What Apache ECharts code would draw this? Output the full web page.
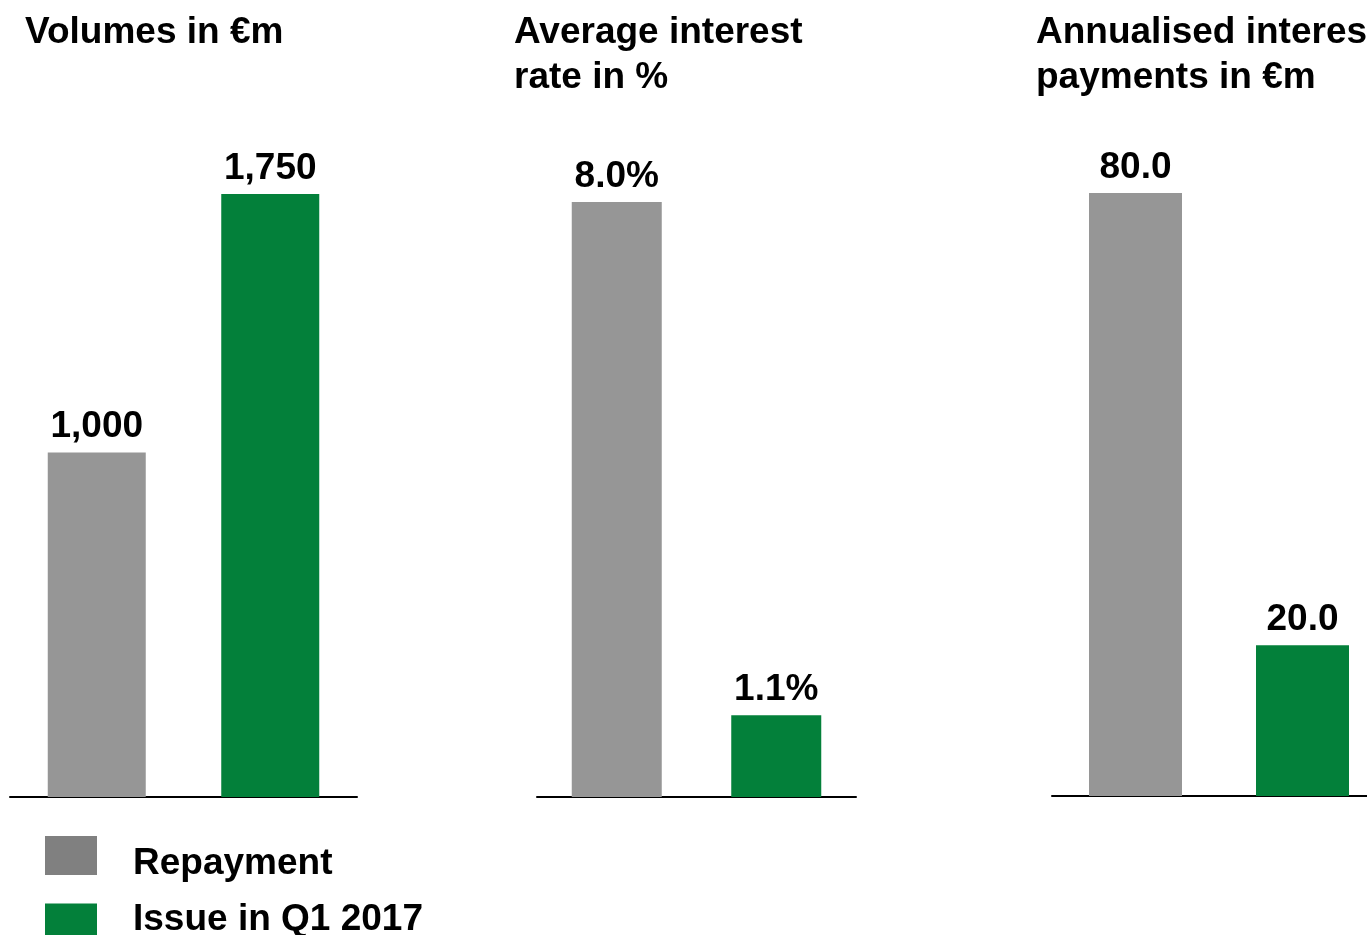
<!DOCTYPE html>
<html>
<head>
<meta charset="utf-8">
<title>Refinancing: repayment vs. new issue</title>
<script src="https://cdn.jsdelivr.net/npm/echarts@6/dist/echarts.min.js"></script>
<style>
  html, body { margin: 0; padding: 0; background: #fff; overflow: hidden; }
  /* canvas runs a little past the right edge so the last panel is cut off there */
  #chart { width: 1400px; height: 935px; }
</style>
</head>
<body>
<div id="chart"></div>
<script>
// Series names (shared by all three panels)
const categories = ['Repayment', 'Issue in Q1 2017'];

// Panel headings
const panelTitles = ['Volumes in €m', 'Average interest\nrate in %', 'Annualised interest\npayments in €m'];

// Values per panel: volumes, average rate, annual interest
const repayment = [1000, 8.0, 80.0];
const issue = [1750, 1.1, 20.0];

// Label formats per panel
const labelFormats = [
  v => v.toLocaleString('en-US'),
  v => v.toFixed(1) + '%',
  v => v.toFixed(1)
];

const FONT = '"Liberation Sans", Arial, Helvetica, sans-serif';
const FS = 37;
const GREY = '#969696';
const GREY_KEY = '#808080';
const GREEN = '#03803a';

// Layout of each panel
const panels = [
  { left: 10,   width: 347, top: 194, bottom: 138, barWidth: 98, titleLeft: 25 },
  { left: 537,  width: 319, top: 202, bottom: 138, barWidth: 90, titleLeft: 514 },
  { left: 1052, width: 334, top: 193, bottom: 139, barWidth: 93, titleLeft: 1036 }
];

const grids = [], xAxes = [], yAxes = [], series = [], titles = [];

panels.forEach((p, i) => {
  grids.push({ left: p.left, width: p.width, top: p.top, bottom: p.bottom, containLabel: false });
  xAxes.push({
    type: 'category', gridIndex: i, data: categories,
    axisLine: { show: true, lineStyle: { color: '#000', width: 2 } },
    axisTick: { show: false }, axisLabel: { show: false }, splitLine: { show: false }
  });
  yAxes.push({ type: 'value', gridIndex: i, min: 0, max: 'dataMax', show: false, splitLine: { show: false } });

  const label = {
    show: true, position: 'top', distance: 7,
    color: '#000', fontFamily: FONT, fontWeight: 'bold', fontSize: FS,
    formatter: params => labelFormats[i](params.value)
  };

  series.push({
    name: categories[0], type: 'bar', xAxisIndex: i, yAxisIndex: i,
    data: [repayment[i], '-'], barWidth: p.barWidth, barGap: '-100%',
    itemStyle: { color: GREY }, label
  });
  series.push({
    name: categories[1], type: 'bar', xAxisIndex: i, yAxisIndex: i,
    data: ['-', issue[i]], barWidth: p.barWidth, barGap: '-100%',
    itemStyle: { color: GREEN }, label
  });

  titles.push({
    text: panelTitles[i], left: p.titleLeft, top: 10, padding: 0,
    textStyle: { fontFamily: FONT, fontWeight: 'bold', fontSize: FS, lineHeight: 45, color: '#000' }
  });
});

// One key per row; the text sits slightly off the swatch centre
const legendRows = [
  { name: categories[0], color: GREY_KEY, top: 836, pad: [16, 0, 0, 0] },
  { name: categories[1], color: GREEN, top: 901, pad: [0, 0, 7, 0] }
].map(r => ({
  left: 45, top: r.top, padding: 0,
  itemWidth: 52, itemHeight: 39, icon: 'rect', selectedMode: false,
  formatter: '{t|{name}}',
  textStyle: {
    fontFamily: FONT, fontWeight: 'bold', fontSize: FS, color: '#000', padding: [0, 0, 0, 31],
    rich: { t: { fontFamily: FONT, fontWeight: 'bold', fontSize: FS, color: '#000', padding: r.pad } }
  },
  data: [{ name: r.name, itemStyle: { color: r.color } }]
}));

const chart = echarts.init(document.getElementById('chart'), null, { renderer: 'canvas' });
chart.setOption({
  backgroundColor: '#fff',
  animation: false,
  title: titles,
  grid: grids,
  xAxis: xAxes,
  yAxis: yAxes,
  series: series,
  legend: legendRows
});
</script>
</body>
</html>
